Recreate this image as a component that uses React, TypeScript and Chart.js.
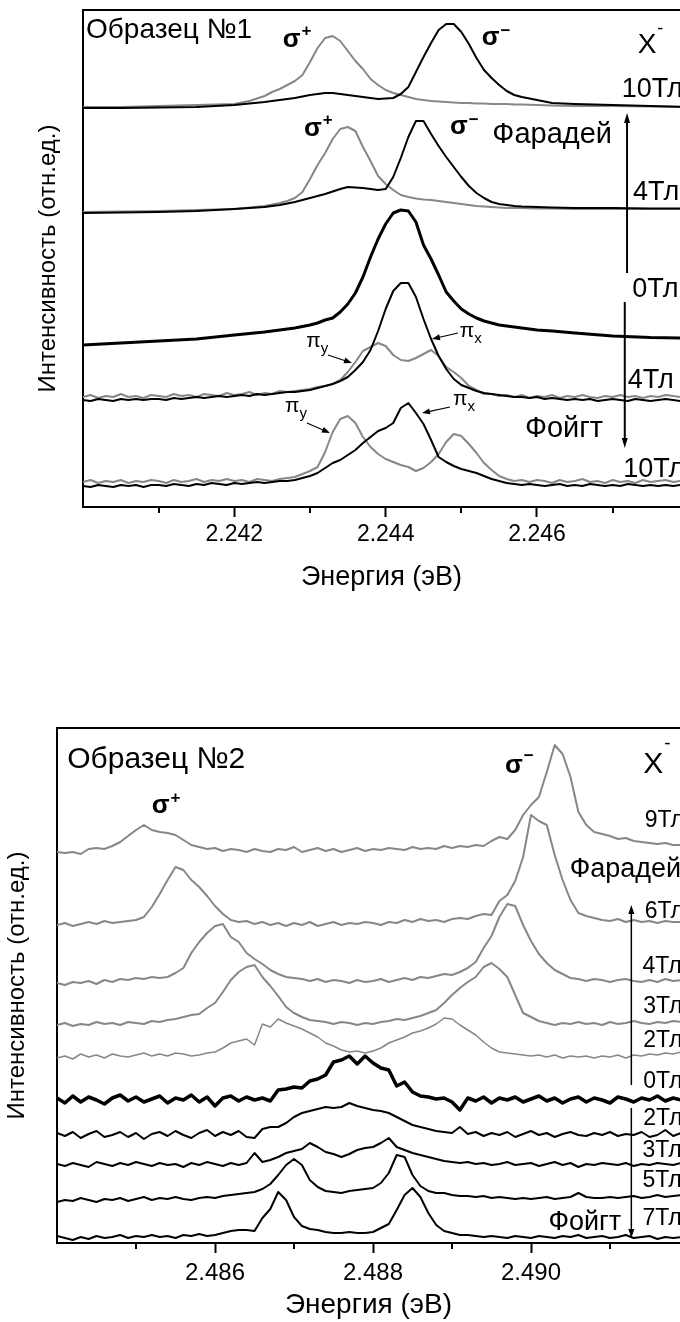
import React, { useEffect, useRef } from 'react';
import { Chart, registerables } from 'chart.js';

Chart.register(...registerables);

const FONT = '"Liberation Sans", Arial, Helvetica, sans-serif';
const INK = '#000000';
const GREY = '#878787';

// ================= Образец №1 (top panel) =================
const topEnergyCoarse = [
  2.2400, 2.2405, 2.2410, 2.2415, 2.2420, 2.2422, 2.2424, 2.2425,
  2.2426, 2.2427, 2.2428, 2.2429, 2.2430, 2.2431, 2.2432, 2.2433, 2.2434, 2.2435,
  2.2436, 2.2437, 2.2438, 2.2439, 2.2440, 2.2441, 2.2442, 2.2443, 2.2444, 2.2445,
  2.2446, 2.2447, 2.2448, 2.2449, 2.2450, 2.2451, 2.2452, 2.2453, 2.2454, 2.2455,
  2.2456, 2.2457, 2.2458,
  2.2460, 2.2462, 2.2465, 2.2470, 2.2475, 2.2480,
];
const topEnergyFine = [
  2.2400, 2.2401, 2.2402, 2.2403, 2.2404, 2.2405, 2.2406, 2.2407, 2.2408, 2.2409,
  2.2410, 2.2411, 2.2412, 2.2413, 2.2414, 2.2415, 2.2416, 2.2417, 2.2418, 2.2419,
  2.2420, 2.2421, 2.2422, 2.2423, 2.2424, 2.2425, 2.2426, 2.2427, 2.2428, 2.2429,
  2.2430, 2.2431, 2.2432, 2.2433, 2.2434, 2.2435, 2.2436, 2.2437, 2.2438, 2.2439,
  2.2440, 2.2441, 2.2442, 2.2443, 2.2444, 2.2445, 2.2446, 2.2447, 2.2448, 2.2449,
  2.2450, 2.2451, 2.2452, 2.2453, 2.2454, 2.2455, 2.2456, 2.2457, 2.2458, 2.2459,
  2.2460, 2.2461, 2.2462, 2.2463, 2.2464, 2.2465, 2.2466, 2.2467, 2.2468, 2.2469,
  2.2470, 2.2471, 2.2472, 2.2473, 2.2474, 2.2475, 2.2476, 2.2477, 2.2478, 2.2479,
  2.2480,
];
// Faraday 10 T
const top10TSigmaPlus = [
  400, 400, 401, 402, 403, 406, 411, 415,
  418, 422, 426, 432, 445, 459, 469, 471, 466, 456,
  446, 438, 428, 422, 417, 414, 412, 410, 408, 407,
  406, 405.5, 405, 404.5, 404, 404, 403.5, 403.5, 403, 403,
  403, 402.5, 402.5,
  402, 401.5, 401, 401, 400.5, 400,
];
const top10TSigmaMinus = [
  399, 399, 399.5, 400, 402, 403.5, 405, 406,
  407, 408, 409, 410.5, 412, 413, 414, 414, 413, 412,
  411, 410, 409, 408, 408.5, 409, 413, 420, 435, 450,
  464, 477, 483, 483, 475, 463, 449, 437, 429, 422,
  416, 412, 410,
  407, 404, 403, 402, 401, 400,
];
// Faraday 4 T
const top4TSigmaPlus = [
  295, 295.5, 296, 297, 298, 299.5, 301, 302.5,
  304, 306, 309, 315, 328, 342, 354, 368, 378, 380,
  376, 360, 346, 331, 323, 317, 312, 310, 308.5, 307.5,
  307, 306, 305, 304, 303, 302, 301, 300.5, 300, 299.5,
  299, 299, 299,
  298.5, 298.5, 298, 298, 298, 298,
];
const top4TSigmaMinus = [
  294, 294.5, 295, 296, 298, 299, 300, 301,
  302, 303.5, 305, 307, 309, 311, 313, 315.5, 318, 320,
  319.5, 319, 318, 317, 318, 330, 349, 370, 386, 386,
  373, 361, 350, 340, 330, 321, 314, 309, 305, 303,
  302, 301, 300.5,
  300, 299.5, 299, 299, 298.5, 298.5,
];
// 0 T
const top0T = [
  162, 164, 166, 168, 172, 173.5, 175, 176,
  177, 178, 179, 180.5, 182, 184, 187, 189, 195, 203,
  214, 230, 250, 268, 283, 294, 297, 296, 285, 262,
  248, 232, 215, 206, 198, 193, 189, 186, 184, 182,
  181, 180, 179,
  177, 176, 174, 171, 169.5, 169,
];
// Voigt 4 T
const top4TVoigtPiX = [
  107, 106, 108, 107, 106, 108, 107, 108, 107, 108,
  108, 107, 109, 108, 109, 110, 109, 110, 111, 110,
  111, 112, 111, 113, 112, 113, 114, 115, 115, 116,
  117, 119, 121, 123, 126, 130, 137, 145, 157, 176,
  198, 216, 224, 224, 210, 188, 168, 151, 138, 128,
  122, 119, 116, 114, 113, 112, 111, 110, 110, 109,
  110, 108, 109, 108, 107, 108, 107, 108, 106, 107,
  108, 107, 106, 108, 107, 106, 107, 108, 107, 106,
  107,
];
const top4TVoigtPiY = [
  110, 112, 109, 111, 110, 113, 110, 111, 109, 112,
  111, 110, 113, 111, 112, 110, 113, 112, 111, 114,
  112, 113, 115, 112, 114, 113, 116, 115, 116, 117,
  118, 120, 121, 123, 127, 135, 145, 156, 160, 164,
  161, 152, 147, 146, 149, 153, 157, 151, 140, 135,
  129, 121, 117, 113, 113, 111, 112, 110, 112, 109,
  111, 110, 112, 109, 111, 110, 112, 110, 109, 111,
  110, 112, 110, 111, 109, 111, 110, 112, 111, 110,
  111,
];
// Voigt 10 T
const top10TVoigtPiX = [
  21, 20, 22, 21, 20, 22, 21, 22, 20, 22,
  22, 21, 23, 22, 21, 23, 22, 24, 23, 22,
  24, 23, 24, 25, 24, 25, 26, 26, 27, 29,
  31, 34, 39, 44, 47, 52, 57, 64, 70, 76,
  79, 84, 99, 104, 94, 83, 67, 50, 45, 41,
  38, 36, 34, 31, 28, 26, 24, 23, 22, 23,
  22, 21, 22, 23, 21, 22, 21, 23, 22, 21,
  22, 21, 23, 22, 21, 22, 21, 22, 21, 22,
  21,
];
const top10TVoigtPiY = [
  25, 27, 24, 26, 25, 27, 24, 26, 25, 27,
  26, 24, 27, 25, 26, 28, 25, 27, 26, 28,
  26, 27, 25, 28, 27, 26, 28, 29, 30, 33,
  36, 40, 55, 75, 88, 91, 84, 70, 60, 53,
  48, 45, 42, 40, 36, 39, 45, 53, 65, 73,
  71, 63, 54, 44, 37, 31, 28, 26, 27, 25,
  27, 26, 24, 27, 25, 26, 28, 25, 26, 24,
  27, 25, 26, 24, 27, 25, 26, 27, 25, 26,
  25,
];
const topMajorTicks = [2.242, 2.244, 2.246];
const topMinorTicks = [2.241, 2.243, 2.245, 2.247];

// ================= Образец №2 (bottom panel) =================
const bottomEnergy = [
  2.4840, 2.4841, 2.4842, 2.4843, 2.4844, 2.4845, 2.4846, 2.4847, 2.4848, 2.4849,
  2.4850, 2.4851, 2.4852, 2.4853, 2.4854, 2.4855, 2.4856, 2.4857, 2.4858, 2.4859,
  2.4860, 2.4861, 2.4862, 2.4863, 2.4864, 2.4865, 2.4866, 2.4867, 2.4868, 2.4869,
  2.4870, 2.4871, 2.4872, 2.4873, 2.4874, 2.4875, 2.4876, 2.4877, 2.4878, 2.4879,
  2.4880, 2.4881, 2.4882, 2.4883, 2.4884, 2.4885, 2.4886, 2.4887, 2.4888, 2.4889,
  2.4890, 2.4891, 2.4892, 2.4893, 2.4894, 2.4895, 2.4896, 2.4897, 2.4898, 2.4899,
  2.4900, 2.4901, 2.4902, 2.4903, 2.4904, 2.4905, 2.4906, 2.4907, 2.4908, 2.4909,
  2.4910, 2.4911, 2.4912, 2.4913, 2.4914, 2.4915, 2.4916, 2.4917, 2.4918, 2.4919,
  2.4920,
];
// vertical offsets of the stacked spectra
const bottomOffsets = [391, 318, 260, 218, 186, 143, 108, 78, 43, 6];
const bottomFields = ['9Тл', '6Тл', '4Тл', '3Тл', '2Тл', '0Тл', '2Тл', '3Тл', '5Тл', '7Тл'];
const bottomF9T = [
  0, -1, 0, -2, 3, 4, 3, 6, 10, 16,
  22, 27, 22, 20, 19, 17, 12, 7, 5, 3,
  4, 1, 3, 2, 0, 3, 1, 0, 3, 2,
  5, 0, 2, 4, 1, 3, 0, 2, 4, 1,
  3, 2, 4, 3, 2, 5, 3, 4, 3, 6,
  4, 6, 5, 7, 6, 11, 15, 13, 22, 37,
  47, 55, 80, 107, 98, 75, 40, 27, 20, 18,
  16, 13, 14, 11, 10, 9, 8, 9, 7, 7,
  6,
];
const bottomF6T = [
  0, 2, -1, 1, 3, 1, 4, 2, 3, 4,
  5, 8, 18, 31, 45, 58, 55, 45, 38, 29,
  19, 11, 5, 3, 4, 1, 3, 0, 2, -1,
  2, 0, 3, -1, 1, 3, 0, 2, 1, 3,
  2, 0, 3, 2, 5, 3, 6, 4, 5, 3,
  6, 7, 6, 9, 11, 10, 24, 30, 44, 68,
  110, 104, 100, 70, 45, 25, 12, 9, 7, 5,
  4, 6, 3, 5, 3, 4, 2, 4, 3, 3,
  2,
];
const bottomF4T = [
  0, -2, 1, 0, 2, -1, 3, 1, 4, 3,
  5, 4, 6, 5, 6, 10, 15, 30, 41, 50,
  57, 59, 46, 41, 30, 24, 19, 13, 9, 6,
  5, 4, 2, 4, 1, 3, 2, 0, 3, 1,
  2, 4, 1, 3, 5, 3, 6, 5, 7, 9,
  8, 11, 15, 21, 35, 47, 66, 79, 77, 58,
  42, 29, 20, 13, 9, 5, 4, 2, 4, 3,
  1, 3, 4, 2, 1, 3, 1, 4, 2, 3,
  2,
];
const bottomF3T = [
  0, 2, -1, 1, 0, 3, 1, 2, 0, 3,
  2, 1, 4, 3, 5, 6, 8, 10, 11, 17,
  22, 33, 45, 53, 58, 60, 48, 39, 29, 18,
  12, 8, 5, 4, 3, 1, 3, 2, 0, 2,
  1, 3, 4, 6, 5, 7, 9, 12, 15, 22,
  30, 37, 43, 48, 58, 62, 56, 48, 30, 12,
  8, 4, 2, 0, 2, 1, 3, 1, 2, 0,
  3, 1, 2, 4, 2, 1, 3, 2, 4, 3,
  2,
];
const bottomF2T = [
  -1, 1, -2, 3, 0, 2, -1, 3, 1, 0,
  2, 4, 1, 3, 1, 4, 3, 1, 2, 4,
  5, 9, 14, 16, 18, 12, 33, 30, 38, 34,
  31, 28, 24, 20, 14, 11, 7, 5, 6, 4,
  6, 9, 14, 17, 20, 24, 26, 29, 33, 39,
  38, 32, 27, 22, 15, 9, 5, 4, 3, 2,
  1, 2, 0, 2, -1, 1, 0, 1, -1, 1,
  0, 2, -1, 2, 1, 3, 2, 4, 3, 5,
  4,
];
const bottomZero = [
  2, -3, 4, -2, 3, 0, -4, 2, 5, -1,
  3, -2, 1, 4, -3, 2, 0, 5, -2, 3,
  -6, 2, 4, -1, 3, 0, 2, -1, 10, 11,
  13, 12, 19, 21, 25, 38, 40, 44, 36, 44,
  37, 32, 30, 14, 18, 8, 4, 3, 1, 2,
  -2, -10, 2, -1, 3, -3, 2, 0, 3, -2,
  1, 4, -1, 2, -3, 1, 3, -2, 2, 0,
  -3, 3, 1, -2, 2, 0, 4, -1, 2, 0,
  3,
];
const bottomV2T = [
  2, -1, 3, -3, 1, 4, -2, 0, 3, -2,
  2, -4, 1, 3, -1, 4, 0, -3, 2, 5,
  -1, 3, 0, 4, -2, -3, 6, 8, 8, 12,
  18, 22, 24, 26, 28, 27, 28, 32, 29, 27,
  25, 24, 22, 18, 14, 10, 8, 6, 4, 3,
  2, 8, 1, 3, -1, 2, 0, 3, -2, 1,
  4, 0, 2, -2, 1, 3, 0, -1, 2, 0,
  3, -1, 1, 0, 3, -2, 0, 5, -1, 2,
  3,
];
const bottomV3T = [
  1, -1, 2, 0, -2, 3, 1, -1, 2, 0,
  3, 1, -1, 2, 0, 1, -2, 2, 0, 3,
  1, -1, 2, 0, 2, 12, 3, 5, 8, 12,
  14, 16, 22, 18, 13, 11, 8, 11, 15, 17,
  18, 22, 27, 18, 15, 12, 10, 8, 6, 4,
  3, 2, 3, 1, 2, 0, 1, 3, 0, 1,
  2, -1, 1, 3, 0, 2, -2, 1, 0, 2,
  1, 0, 2, -1, 1, 0, 2, 1, 0, 2,
  1,
];
const bottomV5T = [
  -2, 0, -1, 2, 0, -2, 1, 0, 2, -1,
  1, 3, 0, 2, 1, 3, 1, 0, 2, 3,
  2, 4, 5, 6, 7, 8, 11, 16, 25, 35,
  41, 35, 20, 13, 9, 8, 7, 9, 10, 11,
  12, 17, 27, 45, 43, 25, 14, 9, 7, 7,
  5, 4, 4, 3, 4, 2, 3, 2, 1, 2,
  1, 2, 3, 1, 2, 3, 7, 3, 2, 2,
  3, 2, 3, 4, 2, 3, 5, 3, 4, 5,
  4,
];
const bottomV7T = [
  1, -1, -3, 0, -2, 1, -1, 0, 2, -1,
  1, 0, 2, 0, 1, -1, 2, 1, 3, 1,
  2, 4, 6, 7, 7, 6, 19, 28, 45, 37,
  20, 11, 8, 7, 5, 4, 4, 5, 4, 4,
  5, 9, 13, 27, 42, 49, 40, 24, 12, 6,
  4, 2, 2, 1, 0, 1, 0, -1, 1, 0,
  -1, 1, 0, -1, 1, 0, 2, -1, 0, 1,
  -1, 0, 2, -1, 0, 1, -2, 0, -1, 0,
  -1,
];
const bottomSeries = [bottomF9T, bottomF6T, bottomF4T, bottomF3T, bottomF2T, bottomZero, bottomV2T, bottomV3T, bottomV5T, bottomV7T];
const bottomMajorTicks = [2.486, 2.488, 2.490];
const bottomMinorTicks = [2.485, 2.487, 2.489, 2.491];

// ================= annotations (data coordinates) =================
type Label = {
  t: string; x: number; y: number; size: number; bold?: boolean;
  sup?: string; supSize?: number; supRise?: number;
  sub?: string; subSize?: number; subDrop?: number;
};
type Arrow = { x1: number; y1: number; x2: number; y2: number; head: number; half: number; lw: number };

const topLabels: Label[] = [
  { t: 'Образец №1', x: 2.24004, y: 469, size: 28 },
  { t: 'σ', sup: '+', x: 2.24264, y: 460, size: 26, bold: true, supSize: 17, supRise: 11 },
  { t: 'σ', sup: '−', x: 2.24527, y: 462, size: 26, bold: true, supSize: 17, supRise: 9 },
  { t: 'X', sup: '-', x: 2.24733, y: 454, size: 28, supSize: 18, supRise: 19 },
  { t: '10Тл', x: 2.24712, y: 410, size: 27 },
  { t: 'σ', sup: '+', x: 2.24292, y: 371, size: 26, bold: true, supSize: 17, supRise: 11 },
  { t: 'σ', sup: '−', x: 2.24485, y: 373, size: 26, bold: true, supSize: 17, supRise: 9 },
  { t: 'Фарадей', x: 2.24541, y: 364, size: 29 },
  { t: '4Тл', x: 2.24727, y: 307, size: 27 },
  { t: '0Тл', x: 2.24726, y: 210, size: 27 },
  { t: 'π', sub: 'y', x: 2.24295, y: 160, size: 21, subSize: 15, subDrop: 6 },
  { t: 'π', sub: 'x', x: 2.24498, y: 170, size: 21, subSize: 15, subDrop: 6 },
  { t: '4Тл', x: 2.24720, y: 119, size: 27 },
  { t: 'π', sub: 'y', x: 2.24267, y: 95, size: 21, subSize: 15, subDrop: 6 },
  { t: 'π', sub: 'x', x: 2.24489, y: 102, size: 21, subSize: 15, subDrop: 6 },
  { t: 'Фойгт', x: 2.24584, y: 70, size: 29 },
  { t: '10Тл', x: 2.24714, y: 30, size: 27 },
];
const topArrows: Arrow[] = [
  { x1: 2.24719, y1: 234, x2: 2.24719, y2: 394, head: 10, half: 3, lw: 2 },
  { x1: 2.24716, y1: 205, x2: 2.24716, y2: 59, head: 10, half: 3, lw: 2 },
  { x1: 2.243238, y1: 152, x2: 2.243555, y2: 144, head: 8, half: 3, lw: 1.2 },
  { x1: 2.244956, y1: 174, x2: 2.244612, y2: 168, head: 8, half: 3, lw: 1.2 },
  { x1: 2.242960, y1: 84, x2: 2.243264, y2: 74, head: 8, half: 3, lw: 1.2 },
  { x1: 2.244850, y1: 100, x2: 2.244480, y2: 94, head: 8, half: 3, lw: 1.2 },
];

const bottomLabels: Label[] = [
  { t: 'Образец №2', x: 2.48413, y: 475, size: 30 },
  { t: 'σ', sup: '+', x: 2.48520, y: 430, size: 26, bold: true, supSize: 17, supRise: 10 },
  { t: 'σ', sup: '−', x: 2.48967, y: 470, size: 26, bold: true, supSize: 17, supRise: 12 },
  { t: 'X', sup: '-', x: 2.49142, y: 470, size: 30, supSize: 19, supRise: 24 },
  { t: 'Фарадей', x: 2.49049, y: 366, size: 27 },
  { t: 'Фойгт', x: 2.49022, y: 13, size: 27 },
  { t: bottomFields[0], x: 2.49144, y: 416, size: 23 },
  { t: bottomFields[1], x: 2.49144, y: 325, size: 23 },
  { t: bottomFields[2], x: 2.49141, y: 270, size: 23 },
  { t: bottomFields[3], x: 2.49142, y: 230, size: 23 },
  { t: bottomFields[4], x: 2.49142, y: 196, size: 23 },
  { t: bottomFields[5], x: 2.49142, y: 155, size: 23 },
  { t: bottomFields[6], x: 2.49142, y: 118, size: 23 },
  { t: bottomFields[7], x: 2.49141, y: 86, size: 23 },
  { t: bottomFields[8], x: 2.49141, y: 56, size: 23 },
  { t: bottomFields[9], x: 2.49141, y: 18, size: 23 },
];
const bottomArrows: Arrow[] = [
  { x1: 2.49127, y1: 158, x2: 2.49127, y2: 338, head: 9, half: 3, lw: 1.5 },
  { x1: 2.49127, y1: 135, x2: 2.49127, y2: 5, head: 9, half: 3, lw: 1.5 },
];

// ================= helpers =================
function line(xs: number[], ys: number[], color: string, width: number, offset = 0) {
  return {
    data: xs.map((x, i) => ({ x, y: ys[i] + offset })),
    borderColor: color,
    borderWidth: width,
    pointRadius: 0,
    fill: false,
    tension: 0,
    borderJoinStyle: 'round',
    borderCapStyle: 'round',
  };
}

function decor(labels: Label[], arrows: Arrow[], minorTicks: number[]) {
  return {
    id: 'decor',
    afterDraw(chart: any) {
      const { ctx, chartArea: a } = chart;
      const xs = chart.scales.x;
      const ys = chart.scales.y;
      const X = (v: number) => xs.getPixelForValue(v);
      const Y = (v: number) => ys.getPixelForValue(v);
      ctx.save();
      ctx.strokeStyle = INK;
      ctx.fillStyle = INK;
      ctx.lineWidth = 2;
      ctx.beginPath();
      ctx.moveTo(a.left - 1, a.top);
      ctx.lineTo(a.right, a.top);
      ctx.stroke();
      for (const v of minorTicks) {
        const x = Math.round(X(v));
        ctx.beginPath();
        ctx.moveTo(x, a.bottom + 1);
        ctx.lineTo(x, a.bottom + 6);
        ctx.stroke();
      }
      for (const ar of arrows) {
        const x1 = X(ar.x1), y1 = Y(ar.y1), x2 = X(ar.x2), y2 = Y(ar.y2);
        const ang = Math.atan2(y2 - y1, x2 - x1);
        const c = Math.cos(ang), s = Math.sin(ang);
        ctx.lineWidth = ar.lw;
        ctx.beginPath();
        ctx.moveTo(x1, y1);
        ctx.lineTo(x2 - c * ar.head * 0.7, y2 - s * ar.head * 0.7);
        ctx.stroke();
        ctx.beginPath();
        ctx.moveTo(x2, y2);
        ctx.lineTo(x2 - c * ar.head - s * ar.half, y2 - s * ar.head + c * ar.half);
        ctx.lineTo(x2 - c * ar.head + s * ar.half, y2 - s * ar.head - c * ar.half);
        ctx.closePath();
        ctx.fill();
      }
      ctx.textAlign = 'left';
      ctx.textBaseline = 'alphabetic';
      for (const l of labels) {
        const x = X(l.x), y = Y(l.y);
        const w = l.bold ? 'bold ' : '';
        ctx.font = `${w}${l.size}px ${FONT}`;
        ctx.fillText(l.t, x, y);
        const tw = ctx.measureText(l.t).width;
        if (l.sup) {
          ctx.font = `${w}${l.supSize}px ${FONT}`;
          ctx.fillText(l.sup, x + tw + 1, y - (l.supRise ?? 10));
        }
        if (l.sub) {
          ctx.font = `${l.subSize}px ${FONT}`;
          ctx.fillText(l.sub, x + tw, y + (l.subDrop ?? 6));
        }
      }
      ctx.restore();
    },
  };
}

type Spec = {
  datasets: any[];
  xMin: number; xMax: number; yMax: number;
  areaLeft: number; areaTop: number; xAxisHeight: number;
  tickFont: number; tickPad: number; xTitleFont: number; xTitlePad: number; yTitlePad: number;
  majorTicks: number[]; minorTicks: number[];
  labels: Label[]; arrows: Arrow[];
};

function makeConfig(s: Spec): any {
  return {
    type: 'line',
    data: { datasets: s.datasets },
    options: {
      responsive: false,
      maintainAspectRatio: false,
      animation: false,
      devicePixelRatio: 1,
      events: [],
      layout: { padding: { left: 0, right: 0, top: s.areaTop, bottom: 0 } },
      plugins: { legend: { display: false }, tooltip: { enabled: false } },
      scales: {
        x: {
          type: 'linear',
          min: s.xMin,
          max: s.xMax,
          afterBuildTicks: (sc: any) => { sc.ticks = s.majorTicks.map((v) => ({ value: v })); },
          afterFit: (sc: any) => { sc.height = s.xAxisHeight; },
          ticks: {
            autoSkip: false, maxRotation: 0, minRotation: 0, padding: s.tickPad, color: INK,
            font: { family: FONT, size: s.tickFont },
            callback: (v: any) => Number(v).toFixed(3),
          },
          grid: { display: true, drawOnChartArea: false, drawTicks: true, tickLength: 10, tickWidth: 2, tickColor: INK },
          border: { display: true, color: INK, width: 2 },
          title: {
            display: true, text: 'Энергия (эВ)', color: INK,
            font: { family: FONT, size: s.xTitleFont },
            padding: { top: 0, bottom: s.xTitlePad },
          },
        },
        y: {
          type: 'linear',
          min: 0,
          max: s.yMax,
          afterFit: (sc: any) => { sc.width = s.areaLeft; },
          ticks: { display: false },
          grid: { display: false, drawTicks: false },
          border: { display: true, color: INK, width: 2 },
          title: {
            display: true, text: 'Интенсивность (отн.ед.)', color: INK,
            font: { family: FONT, size: 24 },
            padding: { top: s.yTitlePad, bottom: 0 },
          },
        },
      },
    },
    plugins: [decor(s.labels, s.arrows, s.minorTicks)],
  };
}

const topSpec: Spec = {
  datasets: [
    line(topEnergyCoarse, top10TSigmaMinus, INK, 2),
    line(topEnergyCoarse, top4TSigmaMinus, INK, 2),
    line(topEnergyCoarse, top0T, INK, 3),
    line(topEnergyFine, top4TVoigtPiX, INK, 2),
    line(topEnergyFine, top10TVoigtPiX, INK, 2),
    line(topEnergyCoarse, top10TSigmaPlus, GREY, 2),
    line(topEnergyCoarse, top4TSigmaPlus, GREY, 2),
    line(topEnergyFine, top4TVoigtPiY, GREY, 2),
    line(topEnergyFine, top10TVoigtPiY, GREY, 2),
  ],
  xMin: 2.240, xMax: 2.24789, yMax: 497,
  areaLeft: 83, areaTop: 10, xAxisHeight: 133,
  tickFont: 23, tickPad: 4.2, xTitleFont: 27, xTitlePad: 45.8, yTitlePad: 34,
  majorTicks: topMajorTicks, minorTicks: topMinorTicks,
  labels: topLabels, arrows: topArrows,
};

const bottomSpec: Spec = {
  datasets: [
    ...[5, 6, 7, 8, 9].map((k) => line(bottomEnergy, bottomSeries[k], INK, k === 5 ? 3.5 : 2, bottomOffsets[k])),
    ...[0, 1, 2, 3, 4].map((k) => line(bottomEnergy, bottomSeries[k], GREY, k === 4 ? 1.5 : 2, bottomOffsets[k])),
  ],
  xMin: 2.484, xMax: 2.491886, yMax: 515,
  areaLeft: 57, areaTop: 88, xAxisHeight: 79,
  tickFont: 24, tickPad: 6.2, xTitleFont: 28, xTitlePad: 0, yTitlePad: 3,
  majorTicks: bottomMajorTicks, minorTicks: bottomMinorTicks,
  labels: bottomLabels, arrows: bottomArrows,
};

export default function App() {
  const topRef = useRef<HTMLCanvasElement>(null);
  const bottomRef = useRef<HTMLCanvasElement>(null);

  useEffect(() => {
    const c1 = new Chart(topRef.current as HTMLCanvasElement, makeConfig(topSpec));
    const c2 = new Chart(bottomRef.current as HTMLCanvasElement, makeConfig(bottomSpec));
    return () => {
      c1.destroy();
      c2.destroy();
    };
  }, []);

  return (
    <div style={{ position: 'fixed', left: 0, top: 0, width: 680, height: 1322, background: '#ffffff', overflow: 'hidden' }}>
      <canvas ref={topRef} width={680} height={640} style={{ position: 'absolute', left: 0, top: 0, width: 680, height: 640 }} />
      <canvas ref={bottomRef} width={680} height={682} style={{ position: 'absolute', left: 0, top: 640, width: 680, height: 682 }} />
    </div>
  );
}
